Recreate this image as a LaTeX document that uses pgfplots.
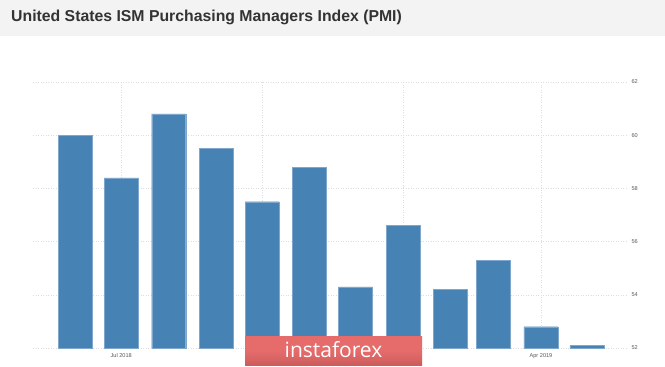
\documentclass[border=0pt]{standalone}
\usepackage{fontspec}
\setmainfont{Liberation Sans}
\newfontfamily\wmfont{Open Sans}
\usepackage{pgfplots}
\pgfplotsset{compat=1.18}
\definecolor{barblue}{RGB}{70,130,180}
\definecolor{gridgray}{RGB}{222,222,222}
\definecolor{titlebg}{RGB}{243,243,243}
\definecolor{wmred}{RGB}{230,108,108}
\definecolor{wmdark}{RGB}{205,92,92}
\begin{document}
\begin{tikzpicture}
\useasboundingbox (0pt,0pt) rectangle (665pt,-367pt);
\fill[white] (0pt,0pt) rectangle (665pt,-367pt);
\fill[titlebg] (0pt,0pt) rectangle (665pt,-36pt);
\node[anchor=west, inner sep=0, font=\bfseries\fontsize{15.8}{18}\selectfont, text=black!80] at (11pt,-17pt) {United States ISM Purchasing Managers Index (PMI)};
\begin{axis}[
 at={(33pt,-348pt)}, anchor=south west,
 scale only axis, width=595pt, height=266pt,
 xmin=-27.6, xmax=360.8, ymin=52, ymax=62,
 axis line style={draw=none}, major tick length=0,
 ytick={52,54,...,62}, yticklabel pos=right,
 xtick={30,122,214,304}, xticklabels={Jul 2018, Oct 2018, Jan 2019, Apr 2019},
 grid=major, major grid style={gridgray, dash pattern=on 1pt off 1.5pt},
 ticklabel style={font=\fontsize{5.6}{6}\selectfont, text=black!65},
 xticklabel style={yshift=-2pt},
 /pgf/number format/assume math mode=true,
 ybar, bar width=22.2,
]
\addplot[fill=barblue, draw=barblue!70!white, line width=0.4pt] coordinates {
(0,60.0) (30,58.4) (61,60.8) (92,59.5) (122,57.5) (153,58.8)
(183,54.3) (214,56.6) (245,54.2) (273,55.3) (304,52.8) (334,52.1)};
\end{axis}
\shade[top color=wmred, bottom color=wmdark, middle color=wmred] (245pt,-336pt) rectangle (422pt,-365pt);
\node[white, inner sep=0, font=\wmfont\fontsize{21}{23}\selectfont] at (333.5pt,-350pt) {instaforex};
\end{tikzpicture}
\end{document}
